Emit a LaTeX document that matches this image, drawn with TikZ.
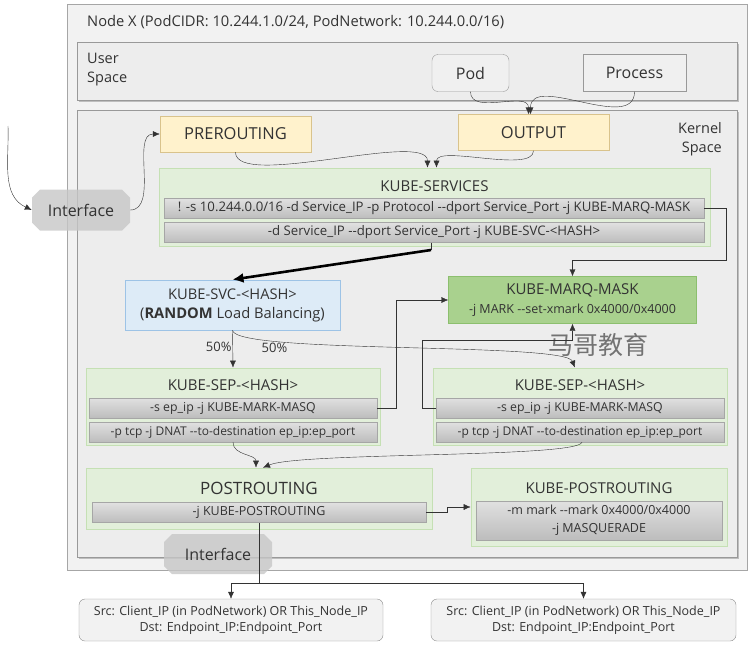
\documentclass[tikz,border=0pt]{standalone}
\usepackage{fontspec}
\setmainfont{Open Sans}[Ligatures=TeXOff]
\newfontfamily\cjk{Noto Sans CJK SC}
\usetikzlibrary{shapes.misc,arrows.meta,shadows,calc}

\definecolor{BoxLine}{HTML}{A6A6A6}
\definecolor{ChainFill}{HTML}{E2EFDA}
\definecolor{ChainLine}{HTML}{C5E0B4}
\definecolor{HookFill}{HTML}{FFF2CC}
\definecolor{HookLine}{HTML}{D9C38C}
\definecolor{SvcFill}{HTML}{DDEBF7}
\definecolor{SvcLine}{HTML}{9DC3E6}
\definecolor{MaskFill}{HTML}{A9D18E}
\definecolor{MaskLine}{HTML}{8CBF6E}

\tikzset{
    every node/.style={font=\fontsize{12.5}{15}\selectfont, text=black!80, inner sep=1pt},
    hookbox/.style={draw=HookLine, fill=HookFill, minimum width=151pt, minimum height=36pt, font=\fontsize{16.5}{19}\selectfont},
    chainbox/.style={draw=ChainLine, fill=ChainFill, thick},
    chaintitle/.style={font=\fontsize{15}{18}\selectfont},
    rulerow/.style={draw=BoxLine, top color=black!12, bottom color=black!26, minimum height=20pt},
    userbox/.style={draw=black!40, fill=black!6, minimum height=37pt, font=\fontsize{16}{19}\selectfont},
    ifacebox/.style={chamfered rectangle, chamfered rectangle xsep=4pt, chamfered rectangle ysep=4pt, draw=none, fill=black!22, opacity=0.8, text opacity=1, font=\fontsize{16}{19}\selectfont},
    resultbox/.style={draw=black!45, fill=black!5, rounded corners=6pt, minimum width=304pt, minimum height=42pt, align=center, font=\fontsize{12.5}{16}\selectfont},
    flow/.style={-{Latex[length=7pt,width=6pt]}, black!80},
}

\begin{document}
\begin{tikzpicture}[x=1pt, y=-1pt]
    \useasboundingbox (0,0) rectangle (753,662);
    % containers
    \draw [draw=black!35, fill=black!5] (67,4) rectangle (747,570);% Node X
    \node [anchor=west, font=\fontsize{14.7}{17}\selectfont] (NodeTitle) at (86,22) {Node X (PodCIDR: 10.244.1.0/24, PodNetwork: 10.244.0.0/16)};
    \draw [draw=black!40, fill=black!7, drop shadow={shadow xshift=2pt, shadow yshift=-2pt, opacity=0.45}] (77,42) rectangle (737,100);% user space
    \node [anchor=west, align=left, font=\fontsize{14.5}{19}\selectfont] (UserLabel) at (86,70) {User\\Space};
    \draw [draw=black!40, fill=black!7, drop shadow={shadow xshift=2pt, shadow yshift=-2pt, opacity=0.45}] (77,110) rectangle (737,557);% kernel space
    \node [align=right, font=\fontsize{14.5}{19}\selectfont] (KernelLabel) at (700,139) {Kernel\\Space};

    % user space
    \node [userbox, rounded corners=6pt, minimum width=77pt] (Pod) at (470.5,73) {Pod};
    \node [userbox, minimum width=103pt] (Process) at (634.5,73) {Process};

    % hooks
    \node [hookbox] (PreRouting) at (235.5,134) {PREROUTING};
    \node [hookbox] (Output) at (533.5,132.5) {OUTPUT};

    % KUBE-SERVICES
    \node [chainbox, minimum width=551pt, minimum height=78pt] (KubeServices) at (434.5,207) {};
    \node [chaintitle] (KubeServicesTitle) at (434.5,186) {KUBE-SERVICES};
    \node [rulerow, minimum width=540pt, font=\fontsize{13.2}{15}\selectfont] (SvcRuleA) at (434,208.5) {! -s 10.244.0.0/16 -d Service\_IP -p Protocol --dport Service\_Port -j KUBE-MARQ-MASK};
    \node [rulerow, minimum width=540pt, font=\fontsize{13.2}{15}\selectfont] (SvcRuleB) at (434,232.5) {-d Service\_IP --dport Service\_Port -j KUBE-SVC-<HASH>};

    % KUBE-SVC and KUBE-MARQ-MASK
    \node [draw=SvcLine, fill=SvcFill, thick, minimum width=215pt, minimum height=50pt, align=center, font=\fontsize{14.7}{19}\selectfont] (KubeSvc) at (232.5,305) {KUBE-SVC-<HASH>\\(\textbf{RANDOM} Load Balancing)};
    \node [draw=MaskLine, fill=MaskFill, minimum width=248pt, minimum height=47pt, align=center, font=\fontsize{15}{19}\selectfont] (MarqMask) at (572.5,300) {KUBE-MARQ-MASK\\{\fontsize{12.5}{15}\selectfont -j MARK --set-xmark 0x4000/0x4000}};
    \node [text=black!55, font=\cjk\fontsize{25}{27}\selectfont] (Watermark) at (598,345) {马哥教育};

    % KUBE-SEP chains
    \foreach \name/\x in {SepA/233, SepB/580}{%
        \node [chainbox, minimum width=294pt, minimum height=77pt] (\name) at (\x,406.5) {};
        \node [chaintitle] (\name Title) at (\x,385) {KUBE-SEP-<HASH>};
        \node [rulerow, minimum width=288pt, font=\fontsize{12.3}{14}\selectfont] (\name RuleA) at (\x,408) {-s ep\_ip -j KUBE-MARK-MASQ};
        \node [rulerow, minimum width=288pt, font=\fontsize{12}{14}\selectfont] (\name RuleB) at (\x,432) {-p tcp -j DNAT --to-destination ep\_ip:ep\_port};
    }

    % POSTROUTING chains
    \node [chainbox, minimum width=346pt, minimum height=61pt] (PostRouting) at (259,498.5) {};
    \node [font=\fontsize{17}{20}\selectfont] (PostRoutingTitle) at (259,488) {POSTROUTING};
    \node [rulerow, minimum width=334pt] (PostRule) at (259,512.5) {-j KUBE-POSTROUTING};
    \node [chainbox, minimum width=256pt, minimum height=78pt] (KubePost) at (599,507) {};
    \node [chaintitle] (KubePostTitle) at (599,488) {KUBE-POSTROUTING};
    \node [rulerow, minimum width=246pt, minimum height=39pt, align=center, font=\fontsize{12.5}{18}\selectfont] (KubePostRule) at (599,520.5) {-m mark --mark 0x4000/0x4000\\-j MASQUERADE};

    % interfaces
    \node [ifacebox, minimum width=98pt, minimum height=41pt] (InterfaceA) at (81,210) {Interface};
    \node [ifacebox, minimum width=108pt, minimum height=40pt] (InterfaceB) at (218,554) {Interface};

    % results
    \node [resultbox] (ResultA) at (231,620) {Src: Client\_IP (in PodNetwork) OR This\_Node\_IP\\Dst: Endpoint\_IP:Endpoint\_Port};
    \node [resultbox, minimum width=305pt] (ResultB) at (583.5,620) {Src: Client\_IP (in PodNetwork) OR This\_Node\_IP\\Dst: Endpoint\_IP:Endpoint\_Port};

    % connectors
    \coordinate (InStart) at (8,126);
    \coordinate (MaskTurn) at (726,260);
    \coordinate (SvcTurn) at (431,250);
    \coordinate (OutSplit) at (259,583);
    \draw [flow] (InStart) to[out=-88, in=155] (InterfaceA.west);
    \draw [flow] (InterfaceA.east) to[out=0, in=180, looseness=0.9] (PreRouting.west);
    \draw [flow] (Pod.south) to[out=-90, in=90] ($(Output.north)+(-5,0)$);
    \draw [flow] (Process.south) to[out=-90, in=90] ($(Output.north)+(-3,0)$);
    \draw [flow] (PreRouting.south) to[out=-90, in=90, looseness=0.5] ($(KubeServices.north)+(-7,0)$);
    \draw [flow] (Output.south) to[out=-90, in=90, looseness=0.6] ($(KubeServices.north)+(2,0)$);
    \draw [flow] (SvcRuleA.east) -| (MaskTurn) -| (MarqMask.north);
    \draw [black!80] (SvcRuleB.south -| SvcTurn) -- (SvcTurn);
    \draw [-{Latex[length=11pt,width=10pt]}, line width=2.6pt] (SvcTurn) -- (KubeSvc.north);
    \draw [flow] (KubeSvc.south) -- node [left, pos=0.45, font=\fontsize{13}{15}\selectfont] {50\%} (SepA.north);
    \draw [flow] (KubeSvc.south) .. controls (236,354) and (565,342) .. (SepB.north -| 575,0) node [pos=0.2, below, xshift=6pt, yshift=-1pt, font=\fontsize{13}{15}\selectfont] {50\%};
    \draw [flow] (SepARuleA.east) -| ($(MarqMask.west)+(-52,0)$) -- (MarqMask.west);
    \draw [flow] (SepBRuleA.west) -| ($(SepBRuleA.west)+(-14,-68)$) -| (MarqMask.south);
    \draw [flow] (SepARuleB.south) to[out=-90, in=90] ($(PostRouting.north)+(-3,0)$);
    \draw [flow] ($(SepBRuleB.south)+(2,0)$) .. controls (578,458) and (300,452) .. ($(PostRouting.north)+(4,0)$);
    \draw [flow] (PostRule.east) -| ($(KubePost.west)+(-23,0)$) -- (KubePost.west);
    \draw [black!80] (PostRule.south) -- (OutSplit);
    \draw [flow] (OutSplit) -| (ResultA.north);
    \draw [flow] (OutSplit) -| (ResultB.north);
\end{tikzpicture}
\end{document}
